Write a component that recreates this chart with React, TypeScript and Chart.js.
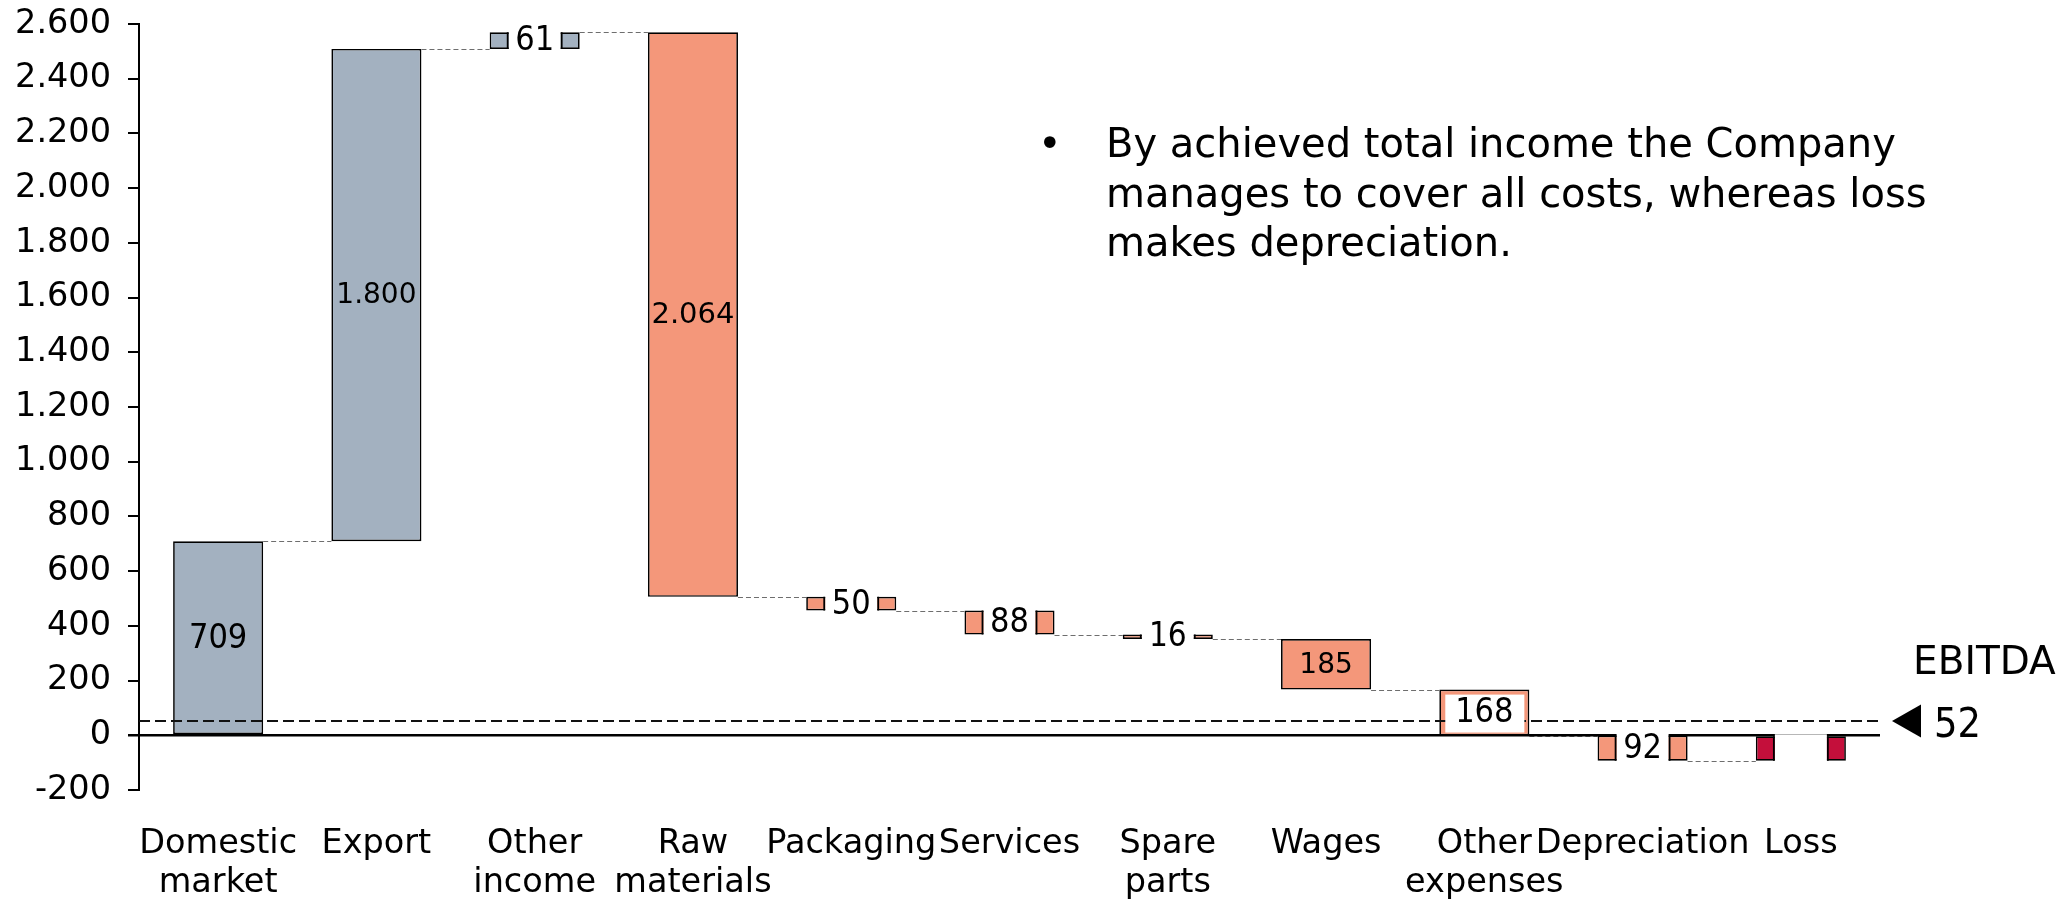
import React, { useEffect, useRef } from "react";
import { Chart, registerables } from "chart.js";

Chart.register(...registerables);

// ---------- data ----------
const categories: (string | string[])[] = [
  ["Domestic", "market"],
  "Export",
  ["Other", "income"],
  ["Raw", "materials"],
  "Packaging",
  "Services",
  ["Spare", "parts"],
  "Wages",
  ["Other", "expenses"],
  "Depreciation",
  "Loss",
];
// changes for each step of the waterfall (the last bar, Loss, is the total)
const deltas = [709, 1800, 61, -2064, -50, -88, -16, -185, -168, -92];
const valueLabels = ["709", "1.800", "61", "2.064", "50", "88", "16", "185", "168", "92", ""];
const ebitdaValue = 52;
const ebitdaLabel = "EBITDA";
const yMin = -200;
const yMax = 2600;
const yStep = 200;
const noteLines = [
  "By achieved total income the Company",
  "manages to cover all costs, whereas loss",
  "makes depreciation.",
];

// ---------- styles ----------
const GREY = "#A3B1C0";
const ORANGE = "#F4977A";
const RED = "#C40F3B";
const barColors = [GREY, GREY, GREY, ORANGE, ORANGE, ORANGE, ORANGE, ORANGE, ORANGE, ORANGE, RED];
// plain = text on bar, gap = bar split with label in gap, inset = white box inside bar
const labelStyles = ["plain", "plain", "gap", "plain", "gap", "gap", "gap", "plain", "inset", "gap", "gap"];
const labelSizes = [34, 28, 34, 29, 34, 34, 33, 28, 34, 34, 34];
const FONT = '"DejaVu Sans", Verdana, sans-serif';
const FONT_C = '"DejaVu Sans Condensed", "DejaVu Sans", sans-serif';

function buildRanges(): [number, number][] {
  let run = 0;
  const r: [number, number][] = deltas.map((d) => {
    const s = run;
    run += d;
    return [s, run];
  });
  r.push([0, run]);
  return r;
}

function fmt(v: number): string {
  const s = Math.abs(v).toString().replace(/\B(?=(\d{3})+(?!\d))/g, ".");
  return (v < 0 ? "-" : "") + s;
}

export default function App() {
  const ref = useRef<HTMLCanvasElement | null>(null);

  useEffect(() => {
    document.body.style.margin = "0";
    const canvas = ref.current;
    if (!canvas) return;
    const ranges = buildRanges();

    const overlay = {
      id: "overlay",
      afterDatasetsDraw(chart: any) {
        const ctx = chart.ctx as CanvasRenderingContext2D;
        const meta = chart.getDatasetMeta(0);
        const ys = chart.scales.y;
        const area = chart.chartArea;
        ctx.save();

        // connectors
        ctx.strokeStyle = "#6e6e6e";
        ctx.lineWidth = 1;
        ctx.setLineDash([5, 3]);
        for (let i = 0; i < meta.data.length - 1; i++) {
          const a = meta.data[i];
          const b = meta.data[i + 1];
          const y = Math.round(ys.getPixelForValue(ranges[i][1])) + 0.5;
          ctx.beginPath();
          ctx.moveTo(a.x + a.width / 2, y);
          ctx.lineTo(b.x - b.width / 2, y);
          ctx.stroke();
        }

        // EBITDA dashed line
        const yE = ys.getPixelForValue(ebitdaValue);
        ctx.strokeStyle = "#111";
        ctx.lineWidth = 2;
        ctx.setLineDash([11, 5]);
        ctx.beginPath();
        ctx.moveTo(area.left, yE);
        ctx.lineTo(area.right, yE);
        ctx.stroke();

        // zero line
        const y0 = ys.getPixelForValue(0);
        ctx.setLineDash([]);
        ctx.strokeStyle = "#000";
        ctx.lineWidth = 2.5;
        ctx.beginPath();
        ctx.moveTo(area.left - 11, y0);
        ctx.lineTo(area.right, y0);
        ctx.stroke();

        // labels
        for (let i = 0; i < meta.data.length; i++) {
          const el = meta.data[i];
          const top = Math.min(el.y, el.base);
          const bot = Math.max(el.y, el.base);
          const left = el.x - el.width / 2;
          const right = el.x + el.width / 2;
          const cy = (top + bot) / 2;
          const st = labelStyles[i];
          if (st === "gap") {
            const g = 27;
            ctx.fillStyle = "#fff";
            ctx.fillRect(el.x - g + 1, top - 2, 2 * g - 2, bot - top + 4);
            ctx.strokeStyle = "#000";
            ctx.lineWidth = 1.8;
            ctx.beginPath();
            ctx.moveTo(el.x - g, top);
            ctx.lineTo(el.x - g, bot);
            ctx.moveTo(el.x + g, top);
            ctx.lineTo(el.x + g, bot);
            ctx.stroke();
          } else if (st === "inset") {
            ctx.fillStyle = "#fff";
            ctx.fillRect(left + 6, top + 5, right - left - 11, bot - top - 8);
          }
          const txt = valueLabels[i];
          if (txt) {
            ctx.fillStyle = "#000";
            ctx.font = `${labelSizes[i]}px ${st === "plain" && i !== 0 ? FONT : FONT_C}`;
            ctx.textAlign = "center";
            ctx.textBaseline = "middle";
            ctx.fillText(txt, el.x, cy + 1);
          }
        }

        // EBITDA marker
        ctx.fillStyle = "#000";
        ctx.beginPath();
        ctx.moveTo(area.right + 12, yE);
        ctx.lineTo(area.right + 41, yE - 16.5);
        ctx.lineTo(area.right + 41, yE + 16.5);
        ctx.closePath();
        ctx.fill();
        ctx.textAlign = "left";
        ctx.textBaseline = "alphabetic";
        ctx.font = `41px ${FONT_C}`;
        ctx.fillText(String(ebitdaValue), area.right + 54, yE + 15.5);
        ctx.font = `39px ${FONT}`;
        ctx.fillText(ebitdaLabel, area.right + 33, yE - 47);

        // note text
        ctx.font = `40px ${FONT}`;
        ctx.fillText("\u2022", 1038, 157);
        noteLines.forEach((line, k) => {
          ctx.fillText(line, 1106, 157 + k * 49.5);
        });

        ctx.restore();
      },
    };

    const chart = new Chart(canvas, {
      type: "bar",
      data: {
        labels: categories as any,
        datasets: [
          {
            data: ranges as any,
            backgroundColor: barColors,
            borderColor: "#000",
            borderWidth: 1.7,
            borderSkipped: false,
            barPercentage: 0.569,
            categoryPercentage: 1,
          },
        ],
      },
      options: {
        responsive: false,
        animation: false,
        events: [],
        layout: { padding: { left: 0, right: 189, top: 24, bottom: 0 } },
        plugins: { legend: { display: false }, tooltip: { enabled: false } },
        scales: {
          x: {
            grid: { display: false, drawTicks: false, tickLength: 0 },
            border: { display: false },
            ticks: {
              color: "#000",
              font: { family: FONT, size: 33.5, lineHeight: 1.16 },
              padding: 35,
              autoSkip: false,
              maxRotation: 0,
              minRotation: 0,
            },
            afterFit: (s: any) => {
              s.height = 113;
              s.paddingLeft = 0;
              s.paddingRight = 0;
            },
          },
          y: {
            min: yMin,
            max: yMax,
            ticks: {
              stepSize: yStep,
              color: "#000",
              font: { family: FONT, size: 33.5 },
              padding: 17,
              callback: (v: any) => fmt(Number(v)),
            },
            grid: { drawOnChartArea: false, tickLength: 11, color: "#000", lineWidth: 2 },
            border: { display: true, color: "#000", width: 2 },
            afterFit: (s: any) => {
              s.width = 139;
              s.paddingTop = 0;
              s.paddingBottom = 0;
            },
          },
        },
      },
      plugins: [overlay],
    });
    return () => chart.destroy();
  }, []);

  return (
    <div style={{ width: 2069, height: 903, background: "#fff" }}>
      <canvas ref={ref} width={2069} height={903} style={{ display: "block" }} />
    </div>
  );
}
